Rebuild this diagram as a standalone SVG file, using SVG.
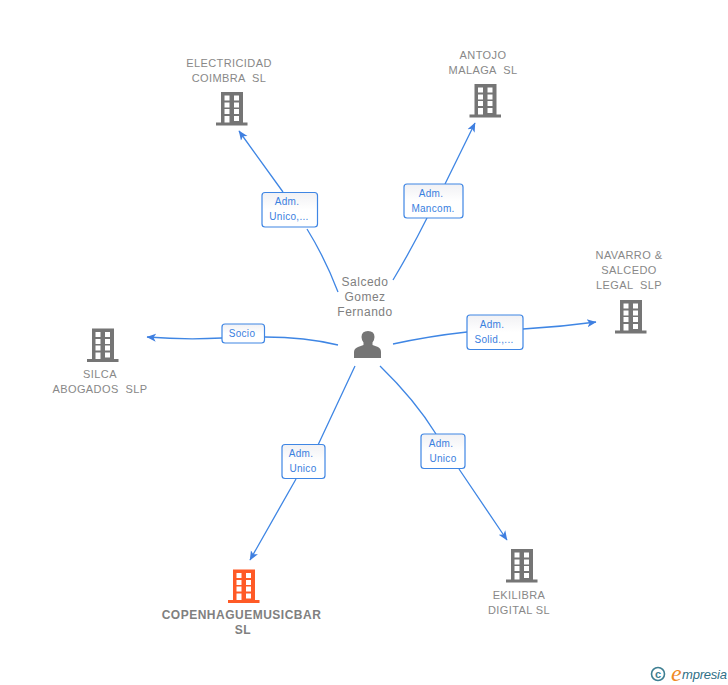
<svg xmlns="http://www.w3.org/2000/svg" width="728" height="685" viewBox="0 0 728 685">
<style>
text{font-family:"Liberation Sans",Arial,sans-serif;white-space:pre}
.n{font-size:11px;fill:#888;text-anchor:middle;letter-spacing:.4px}
.p{font-size:12px;fill:#808080;text-anchor:middle;letter-spacing:.5px}
.b{font-size:12px;font-weight:bold;fill:#808080;text-anchor:middle;letter-spacing:.5px}
.l{font-size:10px;fill:#3a80e0;text-anchor:middle;letter-spacing:.3px}
.c{fill:none;stroke:#3f86e4;stroke-width:1.3}
.box{fill:url(#g);stroke:#3f86e4;stroke-width:1.2}
</style>
<defs>
<linearGradient id="g" x1="0" y1="0" x2="0" y2="1"><stop offset="0" stop-color="#f1f1f4"/><stop offset=".5" stop-color="#fff"/></linearGradient>
<marker id="a" markerUnits="userSpaceOnUse" markerWidth="12" markerHeight="12" refX="9" refY="5" orient="auto"><path d="M0 1L9.500 5L0 9L2.500 5Z" fill="#3f7fe0"/></marker>
<path id="bld" fill-rule="evenodd" d="M5 0H27V30.500H31.500V33.500H0V30.500H5ZM8.500 3.500V8.500H13.500V3.500ZM18 3.500V8.500H23V3.500ZM8.500 10.500V15.500H13.500V10.500ZM18 10.500V15.500H23V10.500ZM8.500 17V22H13.500V17ZM18 17V22H23V17ZM8.500 24V30.500H13.500V24ZM18 24V29H23V24Z"/>
</defs>
<g id="connectors">
<path class="c" marker-end="url(#a)" d="M338 292Q325 258 307 229M283 192L239 131"/>
<path class="c" marker-end="url(#a)" d="M393 280Q411 250 427 218M445 184L475 123"/>
<path class="c" marker-end="url(#a)" d="M393 344Q430 336 467 332M523 329Q560 327 596 322"/>
<path class="c" marker-end="url(#a)" d="M338 345Q305 337 265 337M222 338Q185 340 147 337"/>
<path class="c" marker-end="url(#a)" d="M355 366L318 445M296 479L250 560"/>
<path class="c" marker-end="url(#a)" d="M380 366Q415 400 436 434M459 469L507 540"/>
</g>
<g id="n-electricidad"><use href="#bld" x="216" y="92" fill="#757575"/><text class="n" x="229" y="67">ELECTRICIDAD</text><text class="n" x="229" y="82">COIMBRA  SL</text></g>
<g id="n-antojo"><use href="#bld" x="469.500" y="84" fill="#757575"/><text class="n" x="483" y="59">ANTOJO</text><text class="n" x="483" y="74">MALAGA  SL</text></g>
<g id="n-navarro"><use href="#bld" x="615" y="300" fill="#757575"/><text class="n" x="629" y="259">NAVARRO &amp;</text><text class="n" x="629" y="274">SALCEDO</text><text class="n" x="629" y="289">LEGAL  SLP</text></g>
<g id="n-silca"><use href="#bld" x="87" y="328.500" fill="#757575"/><text class="n" x="100" y="378">SILCA</text><text class="n" x="100" y="393">ABOGADOS  SLP</text></g>
<g id="n-ekilibra"><use href="#bld" x="506" y="549" fill="#757575"/><text class="n" x="519" y="599">EKILIBRA</text><text class="n" x="519" y="614">DIGITAL SL</text></g>
<g id="n-copenhague"><use href="#bld" x="228" y="569.500" fill="#ff5a26"/><text class="b" x="241.500" y="619">COPENHAGUEMUSICBAR</text><text class="b" x="243" y="634">SL</text></g>
<g id="n-salcedo"><text class="p" x="365" y="286">Salcedo</text><text class="p" x="365" y="301">Gomez</text><text class="p" x="365" y="316">Fernando</text>
<path fill="#757575" d="M354 358V352Q354 348.500 358 347L363.500 345V342.500Q361.500 340 361.500 337Q361.500 331 368 331Q374.500 331 374.500 337Q374.500 340 372.500 342.500V345L378 347Q381 348.500 381 352V358Z"/></g>
<g id="e1"><rect class="box" x="262" y="192.500" width="55.500" height="34.500" rx="3"/><text class="l" x="287" y="205">Adm.</text><text class="l" x="289" y="220">Unico,...</text></g>
<g id="e2"><rect class="box" x="404" y="184" width="59" height="34" rx="3"/><text class="l" x="431" y="197">Adm.</text><text class="l" x="433" y="212">Mancom.</text></g>
<g id="e3"><rect class="box" x="467" y="315" width="56" height="34.500" rx="3"/><text class="l" x="492" y="328">Adm.</text><text class="l" x="494" y="343">Solid.,...</text></g>
<g id="e4"><rect class="box" x="222" y="324" width="42.500" height="19" rx="3"/><text class="l" x="242" y="337">Socio</text></g>
<g id="e5"><rect class="box" x="282" y="444.500" width="43" height="34" rx="3"/><text class="l" x="301" y="457">Adm.</text><text class="l" x="303" y="472">Unico</text></g>
<g id="e6"><rect class="box" x="421" y="434" width="44" height="34.500" rx="3"/><text class="l" x="441" y="447">Adm.</text><text class="l" x="443" y="462">Unico</text></g>
<g id="logo"><circle cx="658" cy="674" r="6.500" fill="none" stroke="#3e7f92" stroke-width="1.600"/><text x="658" y="678" font-size="11" font-weight="bold" fill="#3e7f92" text-anchor="middle">c</text><text x="671" y="681" font-size="24" font-style="italic" fill="#f08a24" style="font-family:'Liberation Serif',serif">e</text><text x="682" y="679" font-size="13" font-style="italic" fill="#2f6f86" style="font-family:'Liberation Sans',sans-serif;letter-spacing:-.2px">mpresia</text></g>
</svg>
